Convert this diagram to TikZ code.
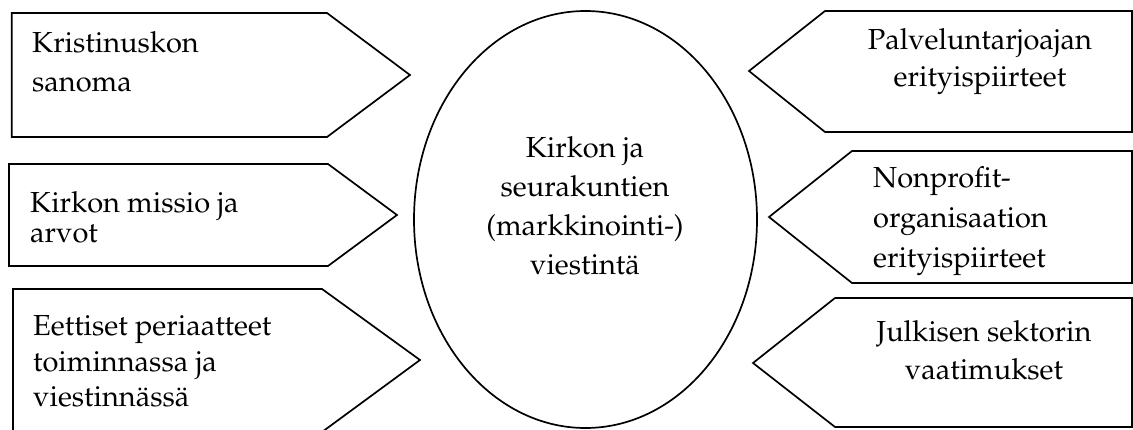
\documentclass[tikz,border=0pt]{standalone}
\usepackage[T1]{fontenc}
\usepackage{mathpazo}
\usetikzlibrary{shapes.geometric}
\tikzset{
  shape line/.style={draw=black, line width=1.7pt, line join=miter},
  txt/.style={inner sep=0pt, font=\fontsize{29}{39}\selectfont},
}
\newcommand{\Lcol}[1]{\begin{tabular}[t]{@{}l@{}}#1\end{tabular}}
\newcommand{\Ccol}[1]{\begin{tabular}[t]{@{}c@{}}#1\end{tabular}}
\begin{document}
\begin{tikzpicture}[x=1pt,y=-1pt]
\useasboundingbox (0,0) rectangle (1133,430);
% left boxes
\coordinate (l1a) at (11.7,13);  \coordinate (l1b) at (327,13);  \coordinate (l1t) at (410,75);
\coordinate (l1c) at (327,137); \coordinate (l1d) at (11.7,137);
\draw[shape line] (l1a) -- (l1b) -- (l1t) -- (l1c) -- (l1d) -- cycle;
\coordinate (l2a) at (9,164);  \coordinate (l2b) at (328,164);  \coordinate (l2t) at (397,215);
\coordinate (l2c) at (328,266); \coordinate (l2d) at (9,266);
\draw[shape line] (l2a) -- (l2b) -- (l2t) -- (l2c) -- (l2d) -- cycle;
\coordinate (l3a) at (13,289);  \coordinate (l3b) at (322,289);  \coordinate (l3t) at (420,360);
\coordinate (l3c) at (322,432); \coordinate (l3d) at (13,432);
\begin{scope}
\clip (0,0) rectangle (1133,430);
\draw[shape line] (l3a) -- (l3b) -- (l3t) -- (l3c) -- (l3d) -- cycle;
\end{scope}
% right boxes
\coordinate (r1a) at (1132,11);  \coordinate (r1b) at (825,11);  \coordinate (r1t) at (749,71);
\coordinate (r1c) at (825,132); \coordinate (r1d) at (1132,132);
\draw[shape line] (r1a) -- (r1b) -- (r1t) -- (r1c) -- (r1d) -- cycle;
\coordinate (r2a) at (1132,151);  \coordinate (r2b) at (852,151);  \coordinate (r2t) at (769,217);
\coordinate (r2c) at (852,283); \coordinate (r2d) at (1132,283);
\draw[shape line] (r2a) -- (r2b) -- (r2t) -- (r2c) -- (r2d) -- cycle;
\coordinate (r3a) at (1132,298);  \coordinate (r3b) at (835,298);  \coordinate (r3t) at (753,363);
\coordinate (r3c) at (835,427); \coordinate (r3d) at (1132,427);
\draw[shape line] (r3a) -- (r3b) -- (r3t) -- (r3c) -- (r3d) -- cycle;
% central ellipse
\node[shape line, ellipse, inner sep=0pt, minimum width=343pt, minimum height=417pt] (core) at (585.5,219.5) {};
% texts
\node[txt, anchor=base west] (t1) at (32,53) {\Lcol{Kristinuskon\\sanoma}};
\node[txt, anchor=base west, font=\fontsize{29}{30}\selectfont] (t2) at (30,213) {\Lcol{Kirkon missio ja\\arvot}};
\node[txt, anchor=base west, font=\fontsize{29}{35.5}\selectfont] (t3) at (33,336) {\Lcol{Eettiset periaatteet\\toiminnassa ja\\viestinn\"ass\"a}};
\node[txt, anchor=base, font=\fontsize{29}{37}\selectfont] (t4) at (980,50) {\Ccol{Palveluntarjoajan\\erityispiirteet}};
\node[txt, anchor=base west, font=\fontsize{29}{40}\selectfont] (t5) at (873,188) {\Lcol{Nonprofit-\\organisaation\\erityispiirteet}};
\node[txt, anchor=base, font=\fontsize{29}{38}\selectfont] (t6) at (984,342) {\Ccol{Julkisen sektorin\\vaatimukset}};
\node[txt, anchor=base] (tc) at (585,158) {\Ccol{Kirkon ja\\seurakuntien\\(markkinointi-)\\viestint\"a}};
\end{tikzpicture}
\end{document}
